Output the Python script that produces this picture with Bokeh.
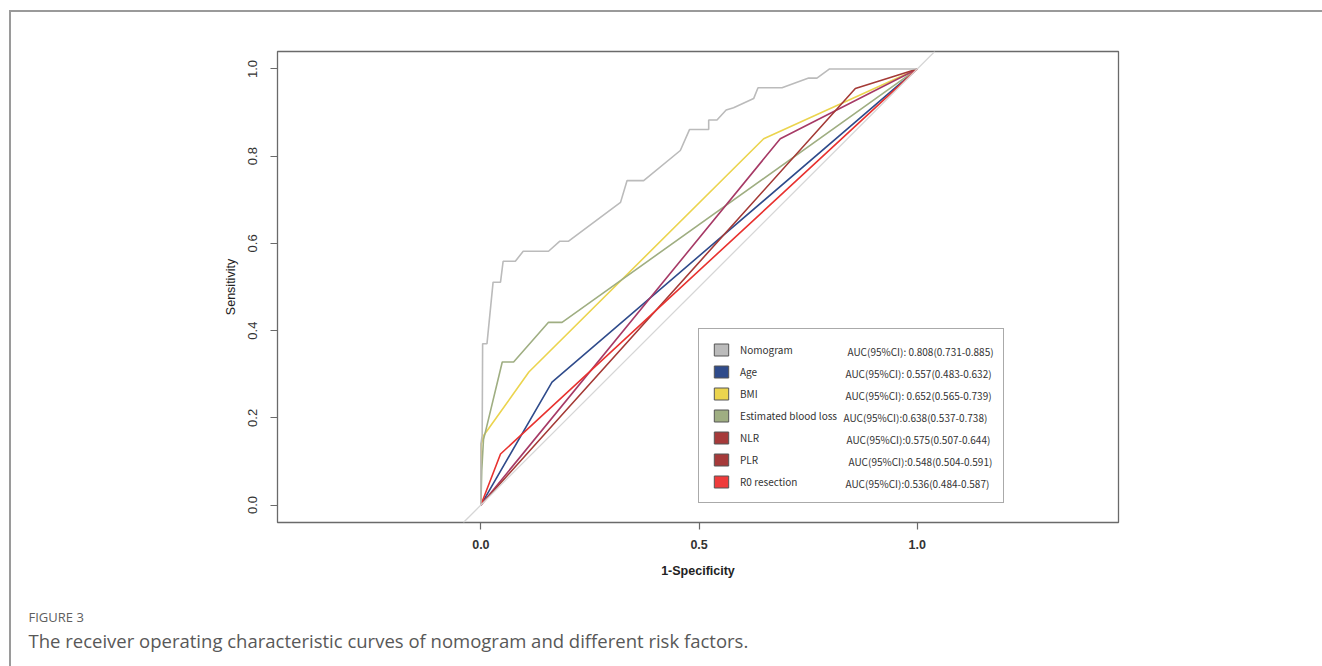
import numpy as np
from bokeh.plotting import figure
from bokeh.models import (FixedTicker, PrintfTickFormatter, Legend, LegendItem,
                          Label, Slope, Range1d, Title)
from bokeh.embed import file_html
from bokeh.resources import INLINE

# ---------------- data ----------------
names = ["Nomogram", "Age", "BMI", "Estimated blood loss", "NLR", "PLR", "R0 resection"]
auc_texts = ["AUC(95%CI): 0.808(0.731-0.885)",
             "AUC(95%CI): 0.557(0.483-0.632)",
             "AUC(95%CI): 0.652(0.565-0.739)",
             "AUC(95%CI):0.638(0.537-0.738)",
             "AUC(95%CI):0.575(0.507-0.644)",
             "AUC(95%CI):0.548(0.504-0.591)",
             "AUC(95%CI):0.536(0.484-0.587)"]

nomogram_fpr = [0.0, 0.0, 0.003, 0.004, 0.014, 0.028, 0.045, 0.051, 0.079, 0.097, 0.155,
                0.181, 0.201, 0.320, 0.335, 0.373, 0.457, 0.478, 0.522, 0.522, 0.541,
                0.562, 0.579, 0.625, 0.635, 0.690, 0.751, 0.770, 0.799, 1.0]
nomogram_tpr = [0.0, 0.14, 0.16, 0.37, 0.37, 0.511, 0.511, 0.559, 0.559, 0.582, 0.582,
                0.605, 0.605, 0.694, 0.744, 0.744, 0.813, 0.861, 0.861, 0.883, 0.883,
                0.906, 0.911, 0.932, 0.957, 0.957, 0.979, 0.979, 1.0, 1.0]
age_fpr = [0.0, 0.163, 1.0]
age_tpr = [0.0, 0.282, 1.0]
bmi_fpr = [0.0, 0.001, 0.006, 0.110, 0.648, 1.0]
bmi_tpr = [0.0, 0.140, 0.159, 0.305, 0.840, 1.0]
ebl_fpr = [0.0, 0.002, 0.006, 0.011, 0.049, 0.075, 0.155, 0.186, 1.0]
ebl_tpr = [0.0, 0.080, 0.150, 0.170, 0.328, 0.328, 0.419, 0.419, 1.0]
nlr_fpr = [0.0, 0.686, 1.0]
nlr_tpr = [0.0, 0.840, 1.0]
plr_fpr = [0.0, 0.858, 1.0]
plr_tpr = [0.0, 0.955, 1.0]
r0_fpr = [0.0, 0.045, 1.0]
r0_tpr = [0.0, 0.117, 1.0]

x_ticks = [0.0, 0.5, 1.0]
y_ticks = [0.0, 0.2, 0.4, 0.6, 0.8, 1.0]

caption_label = "FIGURE 3"
caption_text = "The receiver operating characteristic curves of nomogram and different risk factors."

series_fpr = [nomogram_fpr, age_fpr, bmi_fpr, ebl_fpr, nlr_fpr, plr_fpr, r0_fpr]
series_tpr = [nomogram_tpr, age_tpr, bmi_tpr, ebl_tpr, nlr_tpr, plr_tpr, r0_tpr]

# ---------------- style ----------------
line_colors = ["#BBBBBB", "#2F4B8B", "#EBD44E", "#9FAE82", "#A63A66", "#A43A36", "#E8322F"]
legend_colors = ["#BBBBBB", "#2F4B8B", "#EBD44E", "#9FAE82", "#A63A3A", "#A63A3A", "#EE3B3B"]

W, H = 1322, 666
FL, FR, FT, FB = 277, 1118, 51, 522   # frame edges in px
x0, x1 = -0.466, 1.461
y0, y1 = -0.04, 1.04

def px_to_x(px):
    return x0 + (px - FL) / (FR - FL) * (x1 - x0)

def py_to_y(py):
    return y1 - (py - FT) / (FB - FT) * (y1 - y0)

p = figure(width=W, height=H, output_backend="svg", toolbar_location=None,
           x_range=Range1d(x0, x1), y_range=Range1d(y0, y1),
           min_border_left=FL, min_border_right=W - FR,
           min_border_top=FT, min_border_bottom=H - FB)
p.background_fill_color = "white"
p.border_fill_color = "white"
p.border_fill_alpha = 0
p.styles = {
    "background": ("linear-gradient(#9A9A9A, #9A9A9A) 10px 10px / 1400px 2px no-repeat, "
                   "linear-gradient(#9A9A9A, #9A9A9A) 9px 10px / 2px 800px no-repeat, white"),
}
p.grid.visible = False
p.outline_line_color = "#6A6A6A"
p.outline_line_width = 1.3

# axes
p.xaxis.ticker = FixedTicker(ticks=x_ticks)
p.yaxis.ticker = FixedTicker(ticks=y_ticks)
p.xaxis.formatter = PrintfTickFormatter(format="%.1f")
p.yaxis.formatter = PrintfTickFormatter(format="%.1f")
for ax in (p.xaxis[0], p.yaxis[0]):
    ax.axis_line_color = None
    ax.major_tick_line_color = "#6A6A6A"
    ax.major_tick_line_width = 1.2
    ax.major_tick_out = 7
    ax.major_tick_in = 0
    ax.minor_tick_line_color = None
    ax.major_label_text_font = "Liberation Sans"
    ax.major_label_text_color = "#333333"
    ax.axis_label_text_font = "Liberation Sans"
    ax.axis_label_text_color = "#222222"
    ax.axis_label_text_font_style = "normal"

p.xaxis.major_label_text_font_size = "12.5px"
p.xaxis.major_label_text_font_style = "bold"
p.xaxis.major_label_standoff = 10
p.xaxis.axis_label = "1-Specificity"
p.xaxis.axis_label_text_font_size = "12.5px"
p.xaxis.axis_label_text_font_style = "bold"
p.xaxis.axis_label_standoff = 12

p.yaxis.major_label_text_font_size = "13px"
p.yaxis.major_label_orientation = "vertical"
p.yaxis.major_label_standoff = 13
p.yaxis.axis_label = "Sensitivity"
p.yaxis.axis_label_text_font_size = "12.5px"
p.yaxis.axis_label_standoff = 8

# caption as titles below the plot (first one is only a spacer)
spacer = Title(text=" ", align="left", offset=0, standoff=22,
               text_font="Open Sans", text_font_size="1px", text_color="white")
t1 = Title(text=caption_label, align="left", offset=28 - FL, standoff=0,
           text_font="Open Sans", text_font_size="13px", text_color="#5E5E5E",
           text_font_style="normal")
t2 = Title(text=caption_text, align="left", offset=28 - FL, standoff=0,
           text_font="Open Sans", text_font_size="18.5px", text_color="#585858",
           text_font_style="normal")
p.add_layout(spacer, "below")
p.add_layout(t1, "below")
p.add_layout(t2, "below")

# reference diagonal
p.add_layout(Slope(gradient=1, y_intercept=0, line_color="#D6D6D6", line_width=1.3))

# curves
order = [1, 2, 3, 4, 5, 6, 0]
for i in order:
    p.line(series_fpr[i], series_tpr[i], line_color=line_colors[i], line_width=1.6)

# legend (filled-square keys)
items = []
for i, nm in enumerate(names):
    r = p.quad(left=[np.nan], right=[np.nan], top=[np.nan], bottom=[np.nan],
               fill_color=legend_colors[i], line_color="#555555", line_width=1)
    items.append(LegendItem(label=nm, renderers=[r]))

leg_left, leg_top = 698, 330
pad, row_h, gap = 13, 15, 7
leg_h = 2 * pad + len(names) * row_h + (len(names) - 1) * gap
legend = Legend(items=items, location=(leg_left - FL, FB - (leg_top + leg_h)), margin=0,
                padding=pad, spacing=gap, glyph_width=18, glyph_height=row_h,
                label_height=row_h, label_width=250, label_standoff=10,
                label_text_font="Noto Sans CJK SC", label_text_font_size="10px",
                label_text_color="#333333", label_text_baseline="middle",
                border_line_color="#555555", border_line_width=1,
                background_fill_alpha=0)
p.add_layout(legend)

auc_x_px = [847, 845, 845, 843, 846, 848, 845]
for i, t in enumerate(auc_texts):
    cy = leg_top + pad + row_h / 2 + i * (row_h + gap)
    p.add_layout(Label(x=px_to_x(auc_x_px[i]), y=py_to_y(cy), text=t,
                       text_font="Noto Sans CJK SC", text_font_size="10px",
                       text_color="#333333", text_baseline="middle", text_align="left"))

open("out.html", "w").write(file_html(p, INLINE))
